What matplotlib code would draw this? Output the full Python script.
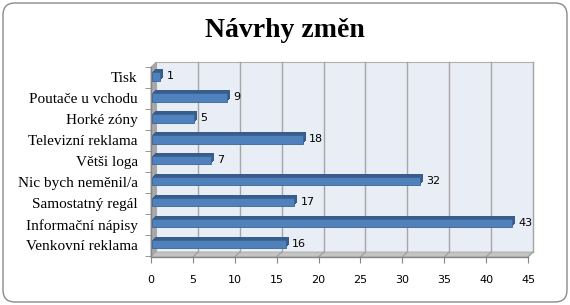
import matplotlib
matplotlib.use('AGG')
import matplotlib.pyplot as plt
from matplotlib.patches import FancyBboxPatch, Polygon
from matplotlib.transforms import ScaledTranslation

# data (bottom to top as drawn)
categories = ['Venkovní reklama', 'Informační nápisy', 'Samostatný regál',
              'Nic bych neměnil/a', 'Větši loga', 'Televizní reklama',
              'Horké zóny', 'Poutače u vchodu', 'Tisk']
values = [16, 43, 17, 32, 7, 18, 5, 9, 1]
x_ticks = [0, 5, 10, 15, 20, 25, 30, 35, 40, 45]
title = 'Návrhy změn'

W, H = 570, 305
fig = plt.figure(figsize=(W / 100, H / 100), dpi=100)

# background axes in pixel units (y down)
bg = fig.add_axes([0, 0, 1, 1])
bg.set_xlim(0, W)
bg.set_ylim(H, 0)
bg.axis('off')

ax = fig.add_axes([151 / W, 48 / H, 377 / W, 190 / H])
ax.set_facecolor('none')
ax.set_xlim(0, 45)
ymin, ymax = -0.57, 8.48
ax.set_ylim(ymin, ymax)

depth = 5  # px of 3d depth


def to_bg(x, y, dx=0, dy=0):
    px = ax.transData.transform((x, y))
    return bg.transData.inverted().transform((px[0] + dx, px[1] + dy))


def off(px):
    return ax.transData + ScaledTranslation(px / 100, px / 100, fig.dpi_scale_trans)


# outer frame
bg.add_patch(FancyBboxPatch((3, 3), W - 6, H - 6,
                            boxstyle='round,pad=0,rounding_size=12',
                            fc='white', ec='#8a8a8a', lw=1.0))

# back wall
p = [to_bg(0, ymin, depth, depth), to_bg(45, ymin, depth, depth),
     to_bg(45, ymax, depth, depth), to_bg(0, ymax, depth, depth)]
bg.add_patch(Polygon(p, closed=True, fc='#e9edf5', ec='#b0b0b0', lw=0.8))

# left side wall
p = [to_bg(0, ymin), to_bg(0, ymin, depth, depth),
     to_bg(0, ymax, depth, depth), to_bg(0, ymax)]
bg.add_patch(Polygon(p, closed=True, fc='#a9a9a9', ec='#a0a0a0', lw=0.5))

# floor
p = [to_bg(0, ymin), to_bg(45, ymin),
     to_bg(45, ymin, depth, depth), to_bg(0, ymin, depth, depth)]
bg.add_patch(Polygon(p, closed=True, fc='#c4c4c4', ec='#a0a0a0', lw=0.5))

# gridlines on back wall and slanted lines on floor
for t in x_ticks[1:]:
    ax.plot([t, t], [ymin, ymax], color='#a6a6a6', lw=1.0,
            transform=off(depth), clip_on=False, zorder=1)
    a = to_bg(t, ymin)
    b = to_bg(t, ymin, depth, depth)
    bg.plot([a[0], b[0]], [a[1], b[1]], color='#9a9a9a', lw=0.8)

# 3d bars: extrusion then front face
bh = 0.40
ypos = list(range(len(categories)))
for s in range(4, 1, -1):
    ax.barh(ypos, values, height=bh, left=0, color='#385d8a',
            edgecolor='none', transform=off(s), clip_on=False, zorder=2)
ax.barh(ypos, values, height=bh, color='#4f81bd', edgecolor='#3b6496',
        lw=0.6, transform=off(1), clip_on=False, zorder=3)

for y, v in zip(ypos, values):
    ax.annotate(str(v), (v, y), xytext=(7, 1), textcoords='offset pixels',
                ha='left', va='center', fontsize=8, family='DejaVu Sans',
                color='black', zorder=4)

ax.set_xticks(x_ticks)
ax.set_xticklabels([str(t) for t in x_ticks], fontsize=8, family='DejaVu Sans')
ax.set_yticks(ypos)
ax.set_yticklabels(categories, fontsize=11, family='Liberation Serif')
ax.set_yticks([i + 0.5 for i in range(-1, len(categories))], minor=True)
ax.tick_params(axis='y', which='major', length=0, pad=9.5)
ax.tick_params(axis='y', which='minor', length=4, color='#868686', direction='out')
ax.tick_params(axis='x', length=4, color='#868686', pad=9)
for k in ['top', 'right']:
    ax.spines[k].set_visible(False)
for k in ['left', 'bottom']:
    ax.spines[k].set_color('#868686')
    ax.spines[k].set_linewidth(1.0)

fig.text(285 / W, 1 - 37 / H, title, ha='center', va='baseline',
         fontsize=20, fontweight='bold', family='Liberation Serif')

fig.savefig('out.png', dpi=100)
